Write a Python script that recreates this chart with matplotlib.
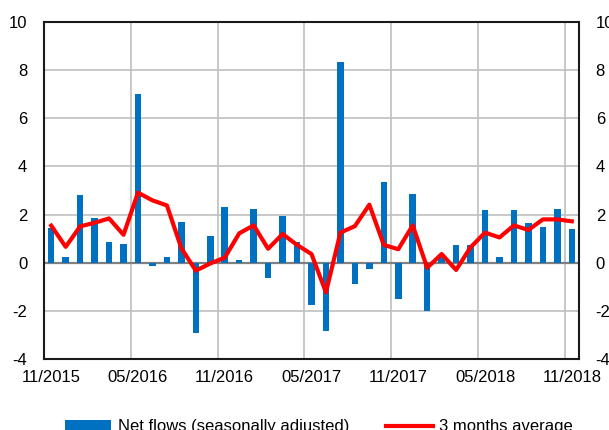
import matplotlib
matplotlib.use("Agg")
import matplotlib.pyplot as plt
import numpy as np

months = ["11/2015", "12/2015", "01/2016", "02/2016", "03/2016", "04/2016", "05/2016", "06/2016",
          "07/2016", "08/2016", "09/2016", "10/2016", "11/2016", "12/2016", "01/2017", "02/2017",
          "03/2017", "04/2017", "05/2017", "06/2017", "07/2017", "08/2017", "09/2017", "10/2017",
          "11/2017", "12/2017", "01/2018", "02/2018", "03/2018", "04/2018", "05/2018", "06/2018",
          "07/2018", "08/2018", "09/2018", "10/2018", "11/2018"]
net_flows = [1.45, 0.25, 2.8, 1.86, 0.86, 0.78, 7.0, -0.12, 0.24, 1.7, -2.9, 1.12, 2.31, 0.1,
             2.23, -0.65, 1.95, 0.86, -1.74, -2.83, 8.33, -0.88, -0.25, 3.34, -1.5, 2.84, -2.0,
             0.25, 0.75, 0.75, 2.19, 0.24, 2.19, 1.64, 1.47, 2.23, 1.4]
avg3 = [1.54, 0.66, 1.51, 1.66, 1.84, 1.16, 2.91, 2.59, 2.38, 0.6, -0.33, -0.03, 0.21, 1.22,
        1.55, 0.58, 1.19, 0.74, 0.36, -1.23, 1.25, 1.52, 2.41, 0.74, 0.56, 1.55, -0.21, 0.36,
        -0.3, 0.64, 1.25, 1.05, 1.55, 1.36, 1.8, 1.8, 1.72]
label_months = ["11/2015", "05/2016", "11/2016", "05/2017", "11/2017", "05/2018", "11/2018"]
yticks = [-4, -2, 0, 2, 4, 6, 8, 10]

plt.rcParams['font.family'] = ['Liberation Sans', 'DejaVu Sans']

fig = plt.figure(figsize=(6.09, 4.30), dpi=100)
ax = fig.add_axes([44/609, 1-359/430, (579-44)/609, (359-22)/430])

x = np.arange(len(months))
bars = ax.bar(x, net_flows, width=0.45, color='#0070C0', zorder=3, label='Net flows (seasonally adjusted)')
line, = ax.plot(x, avg3, color='#FF0000', lw=3, zorder=4, label='3 months average')

ax.set_xlim(-0.5, len(months) - 0.5)
ax.set_ylim(-4, 10)
ax.set_yticks(yticks)
ax.set_yticklabels([str(v) for v in yticks])

lab_idx = [months.index(m) for m in label_months]
ax.set_xticks(lab_idx)
ax.set_xticklabels(label_months)
ax.set_xticks([i - 0.5 for i in lab_idx], minor=True)

ax.grid(axis='y', which='major', color='#BFBFBF', lw=1.2, zorder=1)
ax.grid(axis='x', which='minor', color='#BFBFBF', lw=1.2, zorder=1)
ax.axhline(0, color='#808080', lw=1.6, zorder=2)

ax.tick_params(axis='both', which='both', length=0, labelsize=12, colors='black')
ax.tick_params(axis='y', pad=12, left=True, right=True, labelleft=True, labelright=True)
ax.tick_params(axis='x', pad=8)
for s in ax.spines.values():
    s.set_color('#1a1a1a')
    s.set_linewidth(1.5)

fig.legend(handles=[bars, line], labels=['Net flows (seasonally adjusted)', '3 months average'],
           loc='center', bbox_to_anchor=(319/609, 1-427/430), ncol=2, frameon=False,
           fontsize=12, handlelength=2.8, handletextpad=0.4, columnspacing=2.2,
           handleheight=0.6)

fig.savefig('out.png', dpi=100)
